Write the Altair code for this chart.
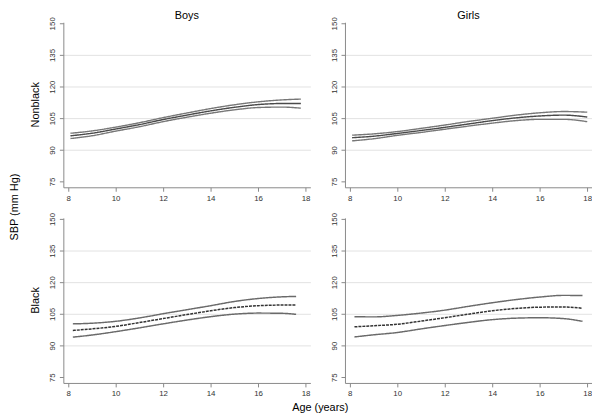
import altair as alt
import pandas as pd

# ---- data ----
boys_nonblack_age = [8.1, 9, 10, 11, 12, 13, 14, 15, 16, 17, 17.8]
boys_nonblack_upper = [97.9, 99.0, 100.8, 102.9, 105.3, 107.5, 109.6, 111.4, 112.8, 113.7, 114.1]
boys_nonblack_mid = [96.7, 97.9, 99.9, 102.0, 104.4, 106.5, 108.5, 110.2, 111.5, 112.0, 112.0]
boys_nonblack_lower = [95.4, 96.7, 98.9, 101.0, 103.4, 105.5, 107.4, 109.0, 110.1, 110.3, 109.8]

girls_nonblack_age = [8.1, 9, 10, 11, 12, 13, 14, 15, 16, 17, 18]
girls_nonblack_upper = [97.0, 97.6, 98.7, 100.2, 101.8, 103.5, 105.0, 106.5, 107.6, 108.2, 107.9]
girls_nonblack_mid = [95.8, 96.5, 97.8, 99.2, 100.7, 102.3, 103.9, 105.2, 106.1, 106.5, 105.6]
girls_nonblack_lower = [94.3, 95.3, 96.9, 98.3, 99.8, 101.3, 102.7, 103.9, 104.5, 104.5, 103.4]

boys_black_age = [8.2, 9, 10, 11, 12, 13, 14, 15, 16, 17, 17.6]
boys_black_upper = [100.3, 100.6, 101.5, 103.1, 105.1, 107.0, 108.9, 110.9, 112.3, 113.1, 113.3]
boys_black_mid = [97.2, 97.9, 99.1, 100.9, 102.8, 104.7, 106.5, 108.0, 108.9, 109.2, 109.2]
boys_black_lower = [94.0, 95.0, 96.6, 98.4, 100.3, 102.1, 103.7, 104.9, 105.4, 105.3, 104.8]

girls_black_age = [8.2, 9, 10, 11, 12, 13, 14, 15, 16, 17, 17.8]
girls_black_upper = [103.7, 103.6, 104.3, 105.4, 106.8, 108.6, 110.3, 111.8, 113.0, 113.8, 113.7]
girls_black_mid = [98.9, 99.4, 100.1, 101.6, 103.2, 104.9, 106.5, 107.6, 108.2, 108.3, 107.7]
girls_black_lower = [94.1, 95.1, 96.2, 97.9, 99.5, 101.0, 102.3, 103.0, 103.2, 102.8, 101.5]

sexes = ["Boys", "Girls"]
races = ["Nonblack", "Black"]
x_ticks = [8, 10, 12, 14, 16, 18]
y_ticks = [75, 90, 105, 120, 135, 150]

panels = [
    ("Boys", "Nonblack", boys_nonblack_age, boys_nonblack_upper, boys_nonblack_mid, boys_nonblack_lower),
    ("Girls", "Nonblack", girls_nonblack_age, girls_nonblack_upper, girls_nonblack_mid, girls_nonblack_lower),
    ("Boys", "Black", boys_black_age, boys_black_upper, boys_black_mid, boys_black_lower),
    ("Girls", "Black", girls_black_age, girls_black_upper, girls_black_mid, girls_black_lower),
]

rows = []
for sex, race, ages, up, mid, lo in panels:
    for curve, vals in (("upper", up), ("mid", mid), ("lower", lo)):
        style = ("nb_" if race == "Nonblack" else "b_") + ("mid" if curve == "mid" else "band")
        for a, v in zip(ages, vals):
            rows.append({"sex": sex, "race": race, "age": a, "sbp": v,
                         "curve": curve, "style": style})
df = pd.DataFrame(rows)

style_dom = ["nb_band", "nb_mid", "b_band", "b_mid"]

base = alt.Chart(df).mark_line(interpolate="monotone").encode(
    x=alt.X("age:Q", scale=alt.Scale(domain=[7.8, 18.2], nice=False, zero=False),
            axis=alt.Axis(values=x_ticks, title=None, grid=False)),
    y=alt.Y("sbp:Q", scale=alt.Scale(domain=[72.3, 150.5], nice=False, zero=False),
            axis=alt.Axis(values=y_ticks, title=None, grid=True, labelAngle=270,
                          gridOpacity=alt.condition("datum.value == 75 || datum.value == 150",
                                                    alt.value(0), alt.value(1)))),
    color=alt.Color("style:N", legend=None,
                    scale=alt.Scale(domain=style_dom, range=["#777777", "#4a4a4a", "#6a6a6a", "#333333"])),
    strokeWidth=alt.StrokeWidth("style:N", legend=None,
                                scale=alt.Scale(domain=style_dom, range=[1.4, 1.5, 0.9, 1.0])),
    strokeDash=alt.StrokeDash("style:N", legend=None,
                              scale=alt.Scale(domain=style_dom, range=[[1, 0], [1, 0], [1, 0], [3, 1]])),
    detail="curve:N",
).properties(width=250, height=167)

chart = base.facet(
    column=alt.Column("sex:N", sort=sexes,
                      header=alt.Header(labelOrient="top", titleOrient="bottom", title="Age (years)",
                                        labelFontSize=11, titleFontSize=11, labelPadding=-5,
                                        titleFontWeight="normal", labelFont="Liberation Sans",
                                        titleFont="Liberation Sans", titlePadding=-6)),
    row=alt.Row("race:N", sort=races,
                header=alt.Header(labelOrient="left", titleOrient="left", title="SBP (mm Hg)",
                                  labelFontSize=11, titleFontSize=11, labelPadding=8,
                                  titleFontWeight="normal", labelFont="Liberation Sans",
                                  titleFont="Liberation Sans", titlePadding=0)),
    spacing={"row": 10, "column": 20},
).resolve_axis(x="independent", y="independent").configure_view(
    stroke=None
).configure_axis(
    labelFont="Liberation Sans", labelFontSize=8, labelColor="#333333",
    domainColor="#888888", tickColor="#888888", tickSize=4, labelPadding=3,
    gridColor="#e2e2e2", gridWidth=1
).properties(padding=0)

chart.save("out.html", embed_options={"renderer": "svg", "actions": False})
